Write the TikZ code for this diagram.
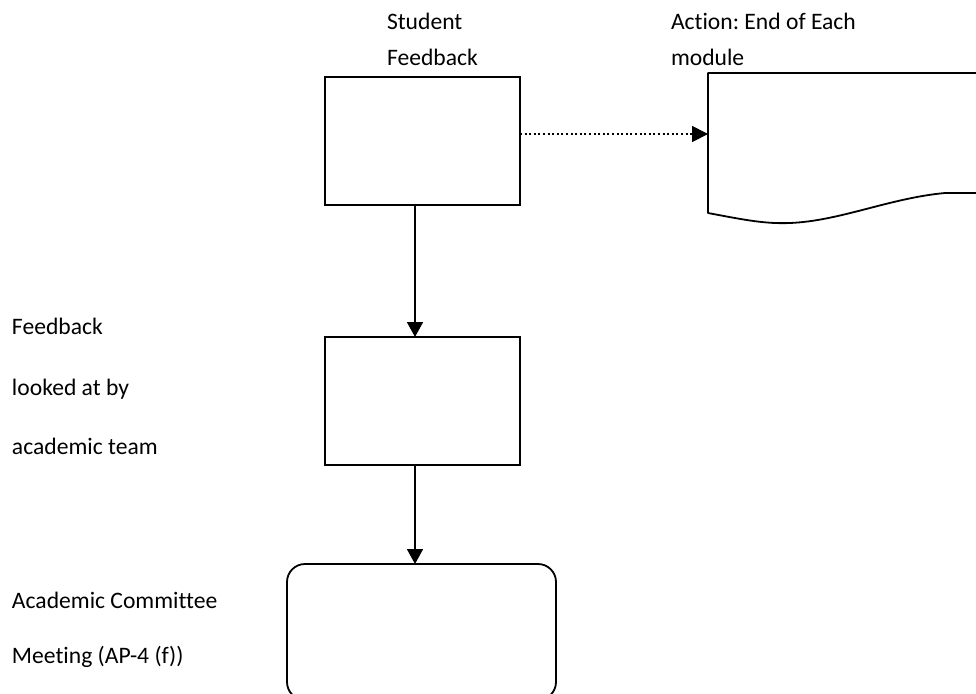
\documentclass[tikz,border=0pt]{standalone}
\usepackage{fontspec}
\setmainfont[Ligatures=NoCommon]{Carlito}
\usetikzlibrary{arrows.meta}

\begin{document}
\frenchspacing
\begin{tikzpicture}[x=1pt, y=-1pt,
  every node/.style={inner sep=0pt, outer sep=0pt},
  lbl/.style={anchor=base west, font=\fontsize{23.6}{28}\selectfont},
  boxline/.style={draw=black, line width=1.8pt},
  arr/.style={line width=1.8pt, -{Triangle[length=15pt, width=16pt]}},
  dotarr/.style={line width=1.8pt, dash pattern=on 2pt off 2.6pt,
    -{Triangle[length=16pt, width=16pt]}}]

  % page frame
  \useasboundingbox (0,0) rectangle (976,693);
  \clip (0,0) rectangle (976,693);

  % process boxes
  \node[boxline, minimum width=195pt, minimum height=128pt] (b1) at (422.5,141) {};
  \node[boxline, minimum width=195pt, minimum height=128pt] (b2) at (422.5,401) {};
  \node[boxline, rounded corners=18pt, minimum width=269pt, minimum height=136pt] (b3) at (421.5,632) {};

  % document shape with wavy lower edge
  \coordinate (dtl) at (708,73);
  \coordinate (dl) at (708,134);
  \draw[boxline, line join=round] (1000,73) -- (dtl) -- (708,213)
    .. controls (745,220) and (765,224) .. (790,223)
    .. controls (840,221) and (890,198) .. (945,193)
    -- (1000,193);

  % connectors
  \coordinate (ax) at (415,0);
  \draw[dotarr] (b1.east |- dl) -- (dl);
  \draw[arr] (b1.south -| ax) -- (b2.north -| ax);
  \draw[arr] (b2.south -| ax) -- (b3.north -| ax);

  % labels
  \node[lbl] (t1a) at (387,30) {Student};
  \node[lbl] (t1b) at (387,65) {Feedback};
  \node[lbl] (t2a) at (671,30) {Action: End of Each};
  \node[lbl] (t2b) at (671,65) {module};
  \node[lbl] (t3a) at (12,334) {Feedback};
  \node[lbl] (t3b) at (12,395) {looked at by};
  \node[lbl] (t3c) at (12,454) {academic team};
  \node[lbl] (t4a) at (12,608) {Academic Committee};
  \node[lbl] (t4b) at (12,663) {Meeting (AP-4 (f))};
\end{tikzpicture}
\end{document}
